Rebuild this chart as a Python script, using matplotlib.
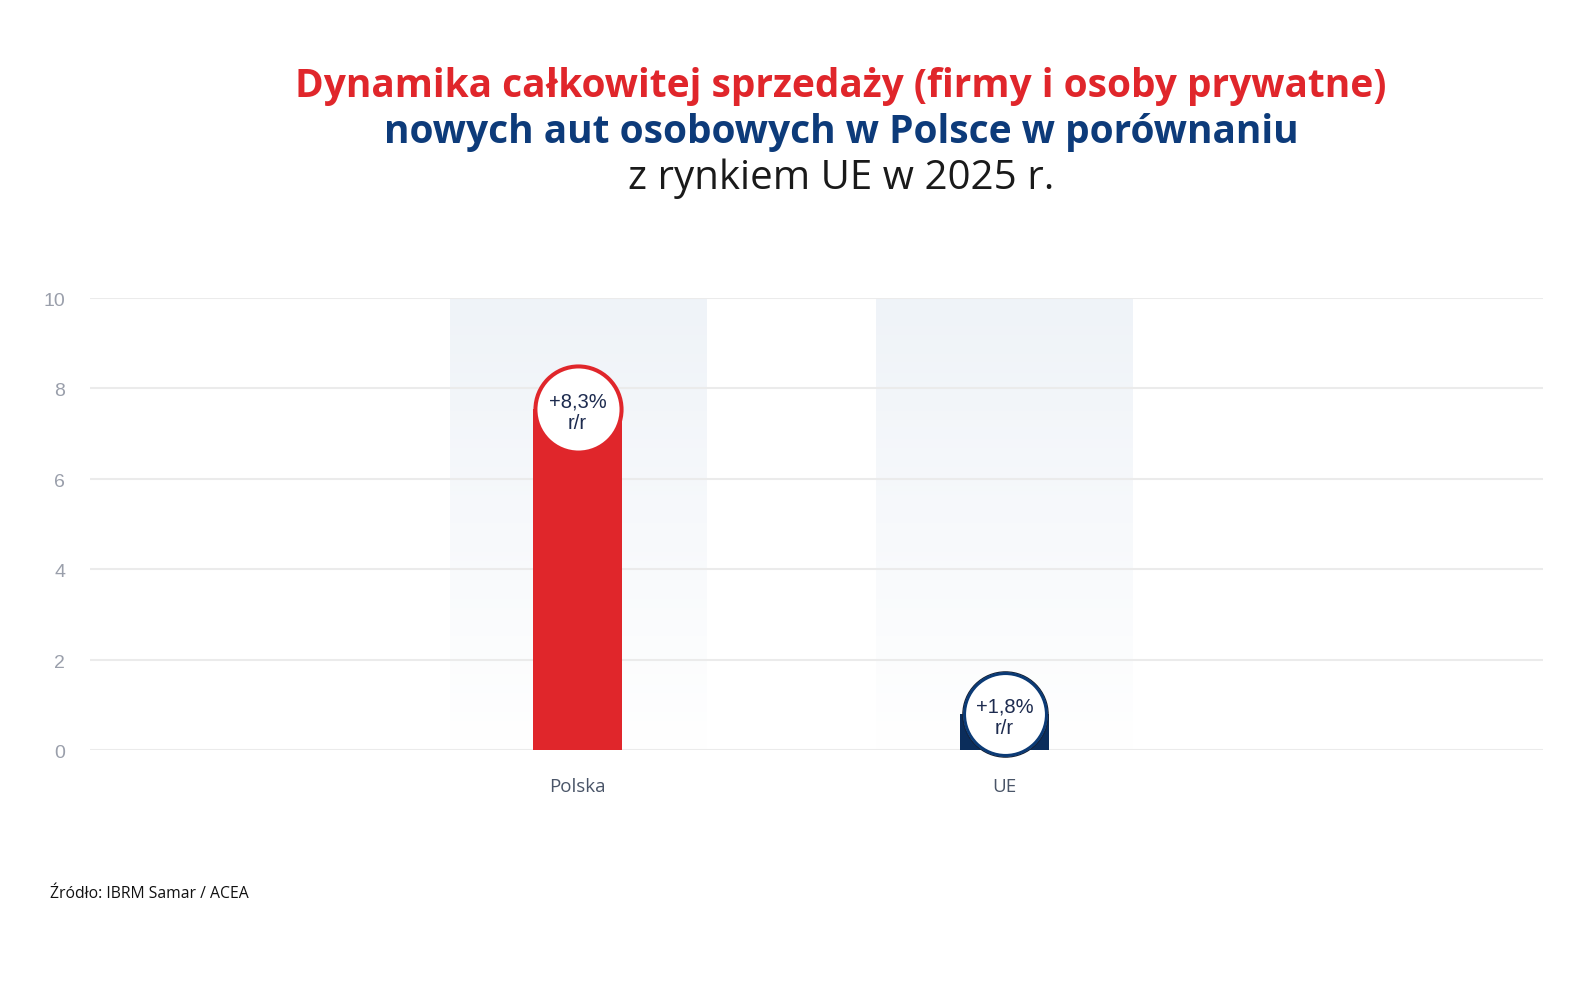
import numpy as np
import matplotlib
matplotlib.use('Agg')
import matplotlib.pyplot as plt
from matplotlib.transforms import ScaledTranslation

# --------------------------------------------------
# data
categories = ['Polska', 'UE']
values = [8.3, 1.8]
labels = ['+8,3%\nr/r', '+1,8%\nr/r']
bar_colours = ['#e0262b', '#0b2d5b']
ring_colours = ['#e0262b', '#0b3a75']
yticks = [0, 2, 4, 6, 8, 10]

title_1 = 'Dynamika całkowitej sprzedaży (firmy i osoby prywatne)'
title_2 = 'nowych aut osobowych w Polsce w porównaniu'
title_3 = 'z rynkiem UE w 2025 r.'
source = 'Źródło: IBRM Samar / ACEA'

# --------------------------------------------------
plt.rcParams['font.family'] = ['Open Sans', 'DejaVu Sans']

fig = plt.figure(figsize=(15.91, 10.07), dpi=100, facecolor='white')
ax = fig.add_axes([0.0566, 0.2552, 0.9132, 0.4492])

x = np.arange(len(categories))
# how far below the bar top the label circle sits (rounded top of the bar
# is hidden under the circle)
drop = [0.76, 1.0]

# soft background band behind each category
grad = np.linspace(0, 1, 256)
top = np.array([239, 243, 248]) / 255.0
band = np.ones((256, 1, 3))
band[:, 0, :] = top[None, :] * (1 - grad[:, None]) + 1.0 * grad[:, None]
for xi in x:
    ax.imshow(band, extent=[xi - 0.3, xi + 0.3, 0, 10], origin='upper',
              aspect='auto', zorder=0, interpolation='bilinear')

# gridlines
for t in yticks:
    ax.axhline(t, color='#ebebeb', lw=1.5, zorder=1)

ax.bar(x, np.array(values) - np.array(drop), width=0.208, color=bar_colours,
       zorder=2, linewidth=0)

# circle labels
txt_shift = ScaledTranslation(0, -4 / 100, fig.dpi_scale_trans)
for xi, v, d, lab, rc in zip(x, values, drop, labels, ring_colours):
    cy = v - d
    if rc != bar_colours[0]:
        ax.plot(xi, cy, marker='o', markersize=61.4, markerfacecolor='white',
                markeredgecolor='#141c2c', markeredgewidth=0.9, zorder=3,
                clip_on=False)
        ax.plot(xi, cy, marker='o', markersize=59, markerfacecolor='white',
                markeredgecolor=rc, markeredgewidth=2.2, zorder=4, clip_on=False)
    else:
        ax.plot(xi, cy, marker='o', markersize=62, markerfacecolor='white',
                markeredgecolor=rc, markeredgewidth=2.9, zorder=3, clip_on=False)
    ax.text(xi, cy, lab, ha='center', va='center', fontsize=14.5,
            family=['Liberation Sans', 'DejaVu Sans'],
            color='#1d2b4f', linespacing=1.15, zorder=5,
            transform=ax.transData + txt_shift)

ax.set_xlim(-1.142, 2.261)
ax.set_ylim(0, 10)
ax.set_yticks(yticks)
ax.set_yticklabels([str(t) for t in yticks], fontsize=14, color='#9a9fab',
                   family=['Liberation Sans', 'DejaVu Sans'])
ax.set_xticks(x)
ax.set_xticklabels(categories, fontsize=13.5, color='#4a5568')
ax.tick_params(axis='y', length=0, pad=18)
ax.tick_params(axis='x', length=0, pad=20)
for lbl in ax.get_yticklabels():
    lbl.set_transform(lbl.get_transform()
                      + ScaledTranslation(0, -1.5 / 100, fig.dpi_scale_trans))
for s in ax.spines.values():
    s.set_visible(False)
ax.set_facecolor('none')

# titles
cx = 0.5286
fig.text(cx, 1 - 87 / 1007, title_1, ha='center', va='center',
         fontsize=28, fontweight='bold', color='#e0262b')
fig.text(cx, 1 - 133 / 1007, title_2, ha='center', va='center',
         fontsize=28, fontweight='bold', color='#0d3b7a')
fig.text(cx, 1 - 179 / 1007, title_3, ha='center', va='center',
         fontsize=29, color='#1a1a1a')

fig.text(50 / 1591, 1 - 894 / 1007, source, ha='left', va='center',
         fontsize=11.3, color='#111111')

fig.savefig('out.png', dpi=100, facecolor='white')
